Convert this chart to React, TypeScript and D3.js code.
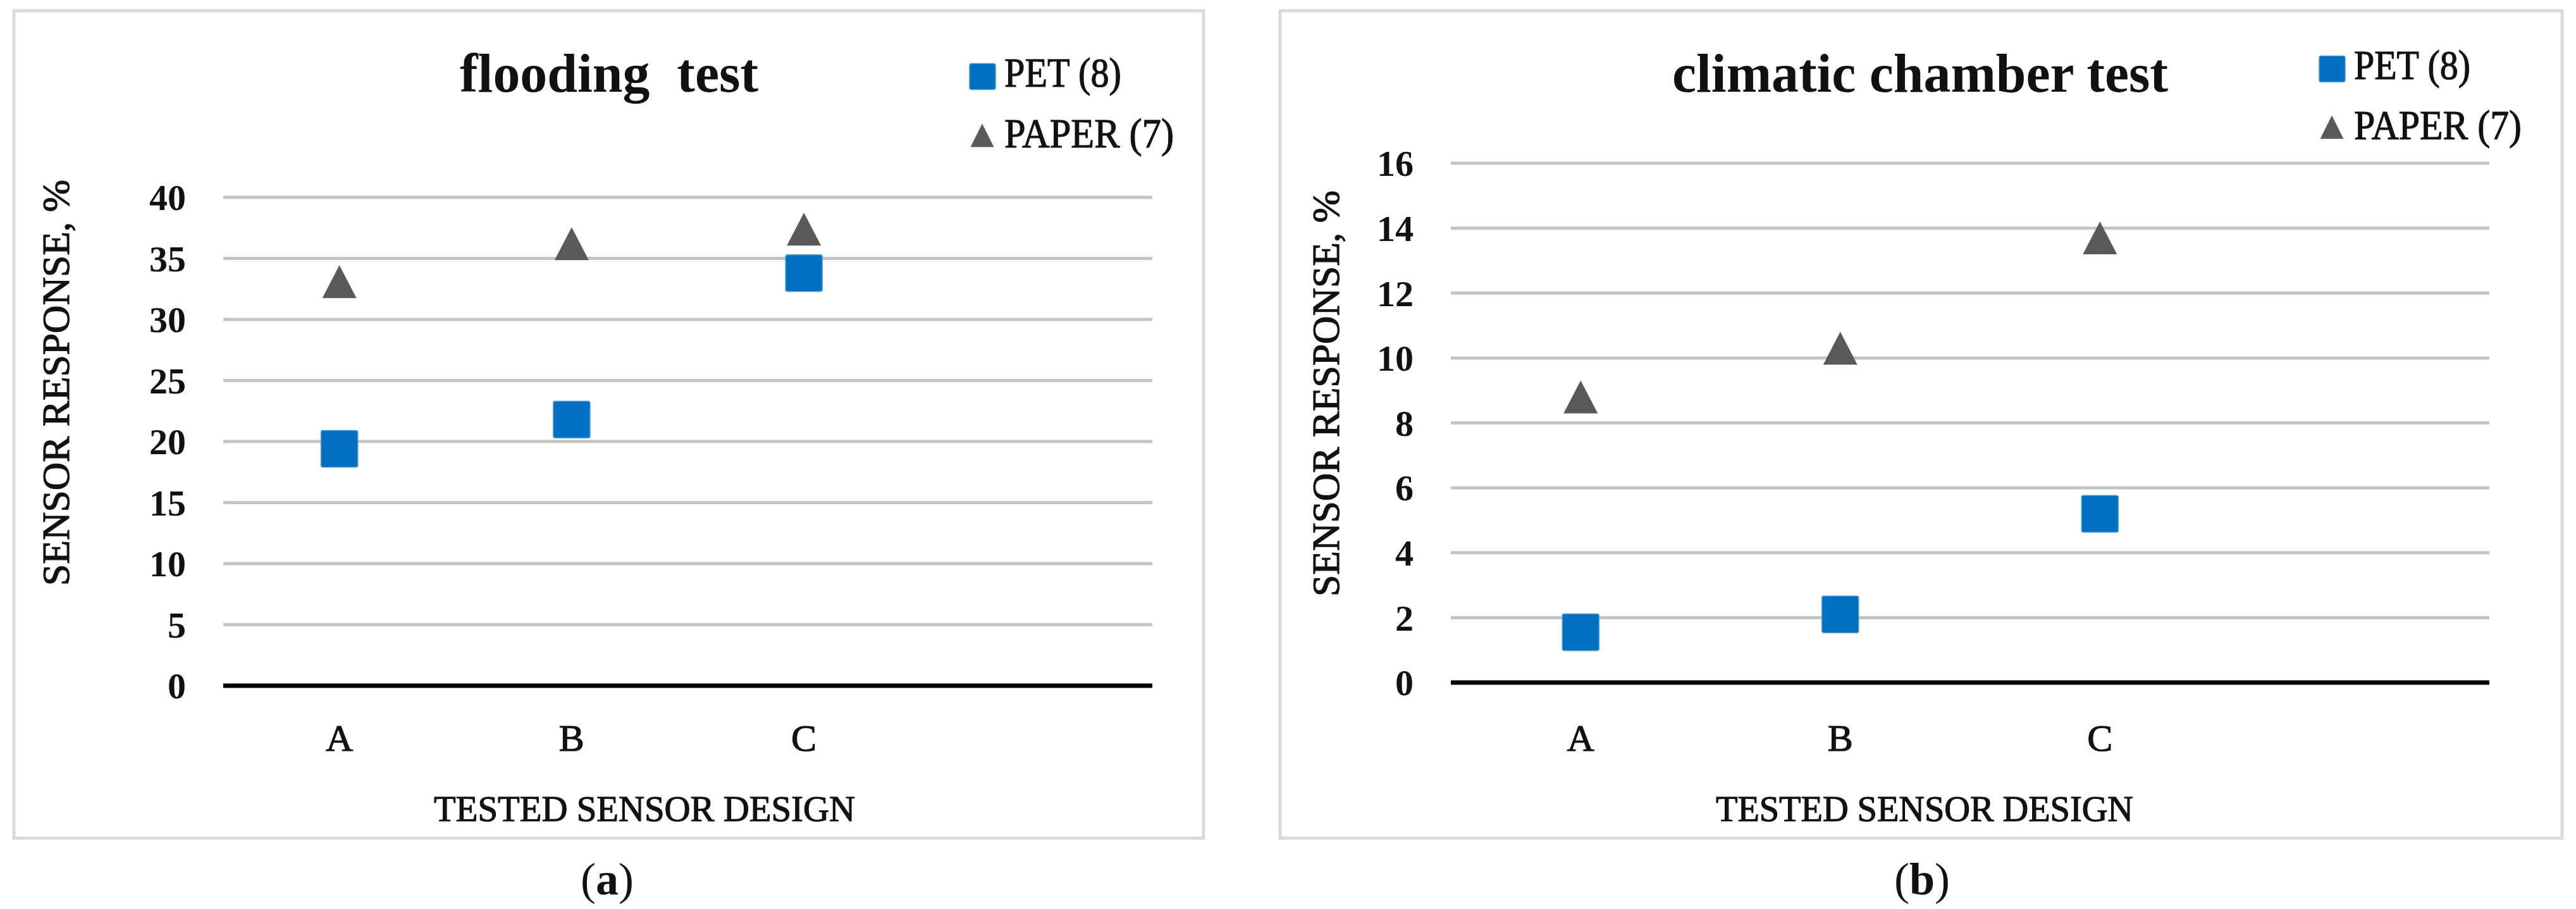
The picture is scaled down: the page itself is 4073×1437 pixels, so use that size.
import React from "react";
import * as d3 from "d3";

// ---- data ----
const categories = ["A", "B", "C", ""];
const seriesNames = ["PET (8)", "PAPER (7)"];

const floodingPET = [19.4, 21.8, 33.8];
const floodingPAPER = [33.1, 36.2, 37.4];
const floodingTicks = [0, 5, 10, 15, 20, 25, 30, 35, 40];

const climaticPET = [1.55, 2.1, 5.2];
const climaticPAPER = [8.8, 10.3, 13.7];
const climaticTicks = [0, 2, 4, 6, 8, 10, 12, 14, 16];

const titles = ["flooding  test", "climatic chamber test"];
const captions = ["a", "b"];
const yTitle = "SENSOR RESPONSE, %";
const xTitle = "TESTED SENSOR DESIGN";

const FONT = "'Liberation Serif', 'Times New Roman', serif";
const BLUE = "#0070c0";
const GRAY = "#595959";
const INK = "#111";

type Panel = {
  frame: [number, number, number, number];
  plot: [number, number, number, number]; // x0, x1, yTop, yBottom
  max: number;
  ticks: number[];
  pet: number[];
  paper: number[];
  title: string;
  titleX: number;
  titleLen: number;
  legendX: number;
  legendY: [number, number];
  legendLen: [number, number];
  yTitleX: number;
  yTitleY: number;
  xTitleX: number;
  xTitleLen: number;
  caption: string;
  captionX: number;
};

const panels: Panel[] = [
  {
    frame: [22, 17, 1903, 1325],
    plot: [353, 1822, 312, 1084],
    max: 40,
    ticks: floodingTicks,
    pet: floodingPET,
    paper: floodingPAPER,
    title: titles[0],
    titleX: 963,
    titleLen: 472,
    legendX: 1533,
    legendY: [137, 233],
    legendLen: [185, 268],
    yTitleX: 109,
    yTitleY: 605,
    xTitleX: 1019,
    xTitleLen: 666,
    caption: captions[0],
    captionX: 960,
  },
  {
    frame: [2024, 17, 4051, 1325],
    plot: [2294, 3936, 258, 1079],
    max: 16,
    ticks: climaticTicks,
    pet: climaticPET,
    paper: climaticPAPER,
    title: titles[1],
    titleX: 3036,
    titleLen: 784,
    legendX: 3667,
    legendY: [125, 220],
    legendLen: [184, 265],
    yTitleX: 2117,
    yTitleY: 622,
    xTitleX: 3043,
    xTitleLen: 660,
    caption: captions[1],
    captionX: 3039,
  },
];

function triPath(cx: number, cy: number, w: number, h: number) {
  const p = d3.path();
  p.moveTo(cx, cy - h / 2);
  p.lineTo(cx + w / 2, cy + h / 2);
  p.lineTo(cx - w / 2, cy + h / 2);
  p.closePath();
  return p.toString();
}

function Square({ cx, cy, s }: { cx: number; cy: number; s: number }) {
  return (
    <rect
      x={cx - s / 2}
      y={cy - s / 2}
      width={s}
      height={s}
      rx={3}
      fill={BLUE}
      stroke="#4a9ad8"
      strokeWidth={1.5}
    />
  );
}

const heavy = { stroke: INK, strokeWidth: 1.2 };

function ChartPanel({ p }: { p: Panel }) {
  const [x0, x1, yTop, yBot] = p.plot;
  const x = d3.scaleBand<string>().domain(categories).range([x0, x1]);
  const y = d3.scaleLinear().domain([0, p.max]).range([yBot, yTop]);
  const cx = (c: string) => (x(c) as number) + x.bandwidth() / 2;
  const [fx0, fy0, fx1, fy1] = p.frame;
  return (
    <g>
      <rect
        x={fx0}
        y={fy0}
        width={fx1 - fx0}
        height={fy1 - fy0}
        fill="#fff"
        stroke="#d9d9d9"
        strokeWidth={5}
      />
      {/* gridlines */}
      {p.ticks.map((t) => (
        <line
          key={"g" + t}
          x1={x0}
          x2={x1}
          y1={y(t)}
          y2={y(t)}
          stroke={t === 0 ? "#000" : "#c4c4c4"}
          strokeWidth={t === 0 ? 7 : 5}
        />
      ))}
      {/* tick labels */}
      {p.ticks.map((t) => (
        <text
          key={"t" + t}
          x={x0 - 59}
          y={y(t)}
          dy="0.35em"
          textAnchor="end"
          fontFamily={FONT}
          fontWeight="bold"
          fontSize={58}
          fill={INK}
        >
          {t}
        </text>
      ))}
      {/* category labels */}
      {categories
        .filter((c) => c !== "")
        .map((c) => (
          <text
            key={"c" + c}
            x={cx(c)}
            y={1187}
            textAnchor="middle"
            fontFamily={FONT}
            fontSize={60}
            fill={INK}
            {...heavy}
          >
            {c}
          </text>
        ))}
      {/* paper triangles */}
      {p.paper.map((v, i) => (
        <path key={"tr" + i} d={triPath(cx(categories[i]), y(v), 54, 52)} fill={GRAY} />
      ))}
      {/* pet squares */}
      {p.pet.map((v, i) => (
        <Square key={"sq" + i} cx={cx(categories[i])} cy={y(v)} s={58} />
      ))}
      {/* title */}
      <text
        x={p.titleX}
        y={145}
        textAnchor="middle"
        fontFamily={FONT}
        fontWeight="bold"
        fontSize={86}
        fill={INK}
        textLength={p.titleLen}
        lengthAdjust="spacingAndGlyphs"
        style={{ whiteSpace: "pre" }}
      >
        {p.title}
      </text>
      {/* legend */}
      <Square cx={p.legendX + 20.5} cy={p.legendY[0] - 16} s={41} />
      <text
        x={p.legendX + 55}
        y={p.legendY[0]}
        fontFamily={FONT}
        fontSize={66}
        fill={INK}
        textLength={p.legendLen[0]}
        lengthAdjust="spacingAndGlyphs"
        {...heavy}
      >
        {seriesNames[0]}
      </text>
      <path d={triPath(p.legendX + 20, p.legendY[1] - 19, 37, 37)} fill={GRAY} />
      <text
        x={p.legendX + 55}
        y={p.legendY[1]}
        fontFamily={FONT}
        fontSize={66}
        fill={INK}
        textLength={p.legendLen[1]}
        lengthAdjust="spacingAndGlyphs"
        {...heavy}
      >
        {seriesNames[1]}
      </text>
      {/* y title */}
      <text
        transform={`translate(${p.yTitleX},${p.yTitleY}) rotate(-90)`}
        textAnchor="middle"
        fontFamily={FONT}
        fontSize={62}
        fill={INK}
        textLength={642}
        lengthAdjust="spacingAndGlyphs"
        {...heavy}
      >
        {yTitle}
      </text>
      {/* x title */}
      <text
        x={p.xTitleX}
        y={1298}
        textAnchor="middle"
        fontFamily={FONT}
        fontSize={56}
        fill={INK}
        textLength={p.xTitleLen}
        lengthAdjust="spacingAndGlyphs"
        {...heavy}
      >
        {xTitle}
      </text>
      {/* caption */}
      <text
        x={p.captionX}
        y={1414}
        textAnchor="middle"
        fontFamily={FONT}
        fontSize={72}
        fill={INK}
      >
        (<tspan fontWeight="bold">{p.caption}</tspan>)
      </text>
    </g>
  );
}

export default function App() {
  return (
    <svg
      width={4073}
      height={1437}
      style={{ position: "absolute", left: 0, top: 0, background: "#fff" }}
    >
      <rect x={0} y={0} width={4073} height={1437} fill="#fff" />
      {panels.map((p, i) => (
        <ChartPanel key={i} p={p} />
      ))}
    </svg>
  );
}
